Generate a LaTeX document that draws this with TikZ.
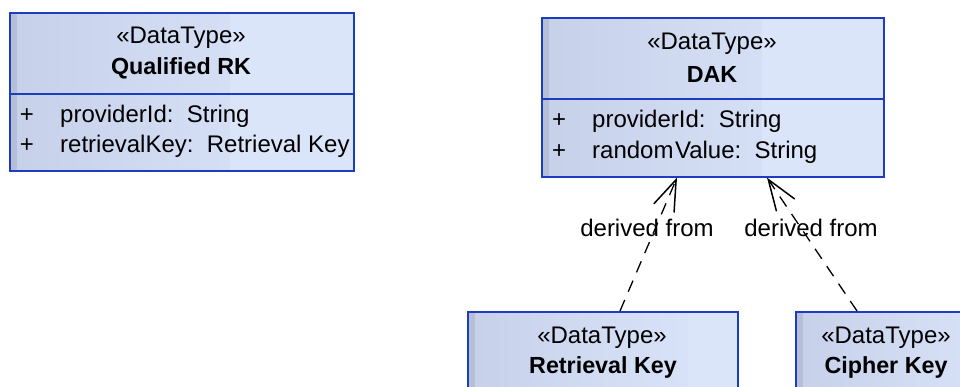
\documentclass[tikz,border=0pt]{standalone}
\usepackage{fontspec}
\setmainfont{Liberation Sans}
\usetikzlibrary{arrows.meta}
\definecolor{boxline}{HTML}{1E3CC0}
\definecolor{boxfill}{HTML}{DBE5FA}
\definecolor{boxdark}{HTML}{C6D0E9}
\tikzset{
  x=1pt,y=-1pt,
  umlbox/.style={draw=boxline, line width=1.6pt, fill=boxfill, inner sep=0pt, anchor=north west,
    path picture={
      \shade[left color=boxdark, right color=boxfill, middle color=boxfill!55!boxdark]
        (path picture bounding box.north west) rectangle ([xshift=220pt]path picture bounding box.south west);
      \fill[boxdark!92!black] (path picture bounding box.north west) rectangle ([xshift=7pt]path picture bounding box.south west);
    }},
  txt/.style={font=\fontsize{24}{28}\selectfont, inner sep=0pt, text=black},
  btxt/.style={txt, font=\fontsize{23.3}{28}\selectfont\bfseries},
  attr/.style={txt, anchor=west},
  dep/.style={dashed, dash pattern=on 12pt off 9pt, line width=1.3pt, -{Straight Barb[length=31pt,width=22pt,line width=1.5pt]}},
}
\begin{document}
\begin{tikzpicture}
\useasboundingbox (0,0) rectangle (960,387);
\clip (0,0) rectangle (960,387);
% Qualified RK
\node[umlbox, minimum width=344pt, minimum height=158pt] (qrk) at (9,12) {};
\draw[boxline, line width=1.6pt] (qrk.west |- 0,94) coordinate (qrkdl) -- (qrk.east |- 0,94) coordinate (qrkdr);
\node[txt] (qrks) at (181,38) {«DataType»};
\node[btxt] (qrkn) at (181,68) {Qualified RK};
\node[txt] (qrkp1) at (27,116) {+};
\node[txt] (qrkp2) at (27,146) {+};
\node[attr] (qrka1) at (60,116) {providerId:\ \ String};
\node[attr] (qrka2) at (60,146) {retrievalKey:\ \ Retrieval Key};
% DAK
\node[umlbox, minimum width=342pt, minimum height=159pt] (dak) at (541,17) {};
\draw[boxline, line width=1.6pt] (dak.west |- 0,99) -- (dak.east |- 0,99);
\node[txt] (daks) at (712,44) {«DataType»};
\node[btxt] (dakn) at (712,74) {DAK};
\node[txt] (dakp1) at (559,121) {+};
\node[txt] (dakp2) at (559,152) {+};
\node[attr] (daka1) at (592,121) {providerId:\ \ String};
\node[attr] (daka2) at (592,152) {random\kern1.5pt Value:\ \ String};
% Retrieval Key
\node[umlbox, minimum width=270pt, minimum height=120pt] (rk) at (467,311) {};
\node[txt] (rks) at (602,338) {«DataType»};
\node[btxt] (rkn) at (603,367) {Retrieval Key};
% Cipher Key
\node[umlbox, minimum width=240pt, minimum height=120pt] (ck) at (795,311) {};
\node[txt] (cks) at (886,338) {«DataType»};
\node[btxt] (ckn) at (886,367) {Cipher Key};
% connectors
\coordinate (rktop) at (rk.north west -| 620,0);
\coordinate (cktop) at (ck.north west -| 857,0);
\coordinate (dakb1) at (dak.south west -| 677,0);
\coordinate (dakb2) at (dak.south west -| 767,0);
\draw[dep] (rktop) -- (dakb1);
\draw[dep] (cktop) -- (dakb2);
\node[txt] (l1) at (647,228) {derived from};
\node[txt] (l2) at (811,228) {derived from};
\end{tikzpicture}
\end{document}
